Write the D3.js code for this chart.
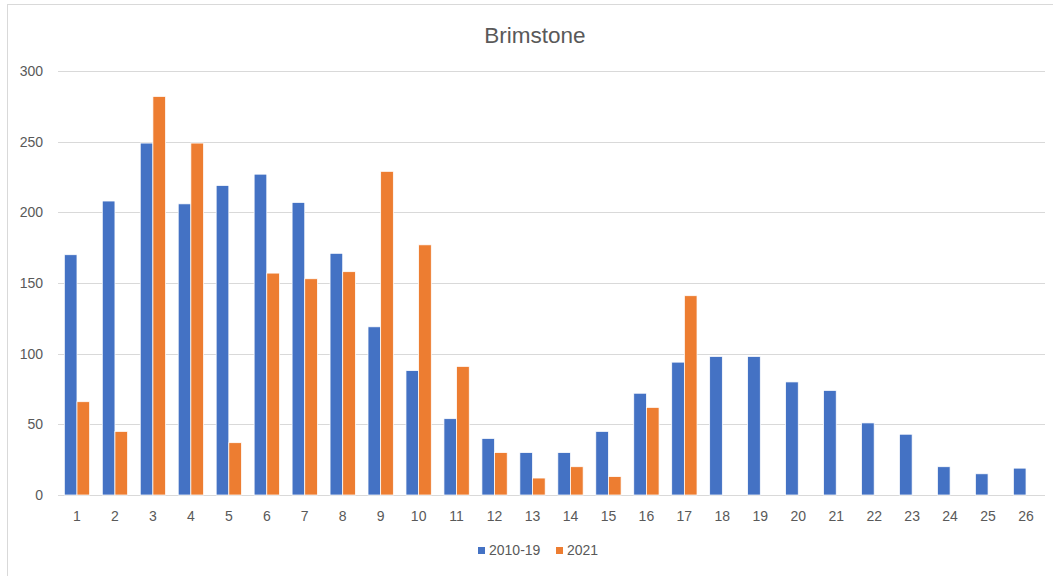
<!DOCTYPE html>
<html>
<head>
<meta charset="utf-8">
<script src="https://cdn.jsdelivr.net/npm/d3@7"></script>
<style>
  body { margin: 0; background: #fff; }
  svg text { font-family: "Liberation Sans", Arial, sans-serif; fill: #595959; }
</style>
</head>
<body>
<script>
// weeks 1..26
const weeks = d3.range(1, 27).map(String);
const seriesNames = ["2010-19", "2021"];
const avg2010_19 = [170, 208, 249, 206, 219, 227, 207, 171, 119, 88, 54, 40, 30, 30, 45, 72, 94, 98, 98, 80, 74, 51, 43, 20, 15, 19];
const counts2021 = [66, 45, 282, 249, 37, 157, 153, 158, 229, 177, 91, 30, 12, 20, 13, 62, 141, null, null, null, null, null, null, null, null, null];
const yTicks = [0, 50, 100, 150, 200, 250, 300];
const colors = ["#4472C4", "#ED7D31"];

const W = 1053, H = 576;
const margin = {top: 71, right: 8, bottom: 81, left: 58};

const svg = d3.select("body").append("svg")
    .attr("width", W)
    .attr("height", H);

// chart frame
svg.append("rect")
    .attr("x", 7.5).attr("y", 4.5)
    .attr("width", W + 10).attr("height", H + 10)
    .attr("fill", "none")
    .attr("stroke", "#d9d9d9");

const x = d3.scaleBand()
    .domain(weeks)
    .range([margin.left, W - margin.right])
    .paddingInner(1/3)
    .paddingOuter(1/6);

const xs = d3.scaleBand()
    .domain(seriesNames)
    .range([0, x.bandwidth()]);

const y = d3.scaleLinear()
    .domain([0, 300])
    .range([H - margin.bottom, margin.top]);

// gridlines
svg.append("g")
  .selectAll("line")
  .data(yTicks)
  .join("line")
    .attr("x1", margin.left)
    .attr("x2", W - margin.right)
    .attr("y1", d => Math.round(y(d)) + 0.5)
    .attr("y2", d => Math.round(y(d)) + 0.5)
    .attr("stroke", "#d9d9d9")
    .attr("stroke-width", 1);

// y labels
svg.append("g")
  .selectAll("text")
  .data(yTicks)
  .join("text")
    .attr("x", 43)
    .attr("y", d => y(d))
    .attr("dy", "0.35em")
    .attr("text-anchor", "end")
    .style("font-size", "14px")
    .text(d => d);

// bars
const rows = weeks.map((w, i) => ({week: w, values: [avg2010_19[i], counts2021[i]]}));

const groups = svg.append("g")
  .selectAll("g")
  .data(rows)
  .join("g")
    .attr("transform", d => "translate(" + x(d.week) + ",0)");

groups.selectAll("rect")
  .data(d => d.values.map((v, j) => ({name: seriesNames[j], value: v, j: j})).filter(d => d.value != null))
  .join("rect")
    .attr("x", d => xs(d.name))
    .attr("width", xs.bandwidth())
    .attr("y", d => y(d.value))
    .attr("height", d => y(0) - y(d.value))
    .attr("fill", d => colors[d.j])
    .attr("stroke", "#fff")
    .attr("stroke-width", 0.75);

// x labels
svg.append("g")
  .selectAll("text")
  .data(weeks)
  .join("text")
    .attr("x", d => x(d) + x.bandwidth() / 2)
    .attr("y", 521)
    .attr("text-anchor", "middle")
    .style("font-size", "14px")
    .text(d => d);

// title
svg.append("text")
    .attr("x", 535)
    .attr("y", 43)
    .attr("text-anchor", "middle")
    .style("font-size", "22.5px")
    .text("Brimstone");

// legend
const legendItems = [
  {name: seriesNames[0], color: colors[0], x: 478},
  {name: seriesNames[1], color: colors[1], x: 556}
];
const lg = svg.append("g")
  .selectAll("g")
  .data(legendItems)
  .join("g")
    .attr("transform", d => "translate(" + d.x + ",547)");
lg.append("rect")
    .attr("width", 7).attr("height", 7)
    .attr("fill", d => d.color);
lg.append("text")
    .attr("x", 11)
    .attr("y", 3.5)
    .attr("dy", "0.35em")
    .style("font-size", "14px")
    .text(d => d.name);
</script>
</body>
</html>
